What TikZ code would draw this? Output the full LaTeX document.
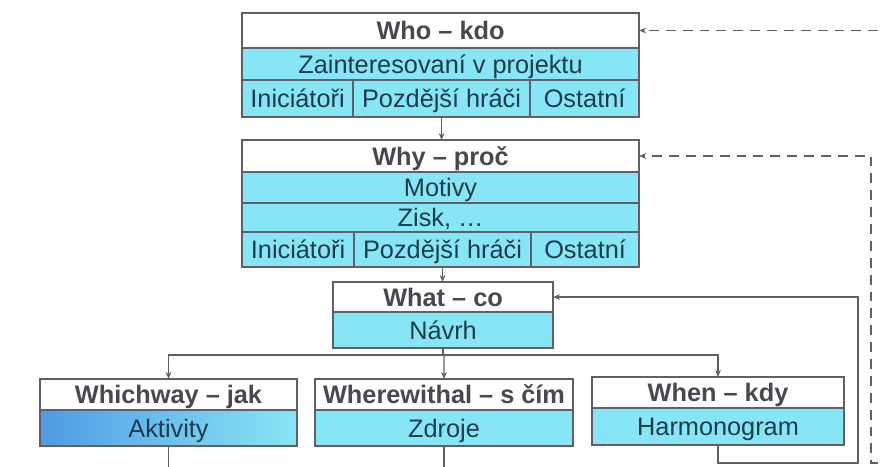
\documentclass[tikz,border=0pt]{standalone}
\usepackage{fontspec}
\setmainfont{Liberation Sans}
\usepackage{tikz}
\usetikzlibrary{arrows.meta}

\definecolor{boxline}{RGB}{95,95,105}
\definecolor{cellfill}{RGB}{135,230,245}
\definecolor{darkfill}{RGB}{80,155,228}
\definecolor{headtext}{RGB}{72,72,80}
\definecolor{celltext}{RGB}{30,60,75}

\begin{document}
\begin{tikzpicture}[x=0.025cm,y=-0.025cm,
    cell/.style={draw=boxline,line width=0.9pt,fill=cellfill,text=celltext,
      inner sep=0pt,outer sep=0pt,anchor=north west,text height=13pt,text depth=0pt,
      font=\fontsize{18}{18}\selectfont},
    head/.style={cell,fill=white,text=headtext,font=\fontsize{18}{18}\selectfont\bfseries},
    link/.style={draw=boxline,line width=0.9pt,-{Stealth[length=5pt,width=4pt]}},
    back/.style={link,dash pattern=on 7pt off 5pt}]
  \useasboundingbox (0,0) rectangle (885,466);

  % who
  \node[head,minimum width=9.925cm,minimum height=0.875cm] (who) at (242,13) {Who – kdo};
  \node[cell,minimum width=9.925cm,minimum height=0.8cm] (whoA) at (who.south west) {Zainteresovaní v projektu};
  \node[cell,minimum width=2.775cm,minimum height=0.925cm] (whoB) at (whoA.south west) {Iniciátoři};
  \node[cell,minimum width=4.425cm,minimum height=0.925cm] (whoC) at (whoB.north east) {Pozdější hráči};
  \node[cell,minimum width=2.725cm,minimum height=0.925cm] (whoD) at (whoC.north east) {Ostatní};

  % why
  \node[head,minimum width=9.925cm,minimum height=0.8cm] (why) at (242,140) {Why – proč};
  \node[cell,minimum width=9.925cm,minimum height=0.775cm] (whyA) at (why.south west) {Motivy};
  \node[cell,minimum width=9.925cm,minimum height=0.725cm] (whyB) at (whyA.south west) {Zisk, …};
  \node[cell,minimum width=2.8cm,minimum height=0.875cm] (whyC) at (whyB.south west) {Iniciátoři};
  \node[cell,minimum width=4.425cm,minimum height=0.875cm] (whyD) at (whyC.north east) {Pozdější hráči};
  \node[cell,minimum width=2.7cm,minimum height=0.875cm] (whyE) at (whyD.north east) {Ostatní};

  % what
  \node[head,minimum width=5.5cm,minimum height=0.75cm] (what) at (333,282) {What – co};
  \node[cell,minimum width=5.5cm,minimum height=0.9cm] (whatA) at (what.south west) {Návrh};

  % which way, wherewithal, when
  \node[head,minimum width=6.425cm,minimum height=0.775cm] (way) at (40,379) {Whichway – jak};
  \node[cell,minimum width=6.425cm,minimum height=0.9cm,left color=darkfill,middle color=cellfill,right color=cellfill] (wayA) at (way.south west) {Aktivity};
  \node[head,minimum width=6.45cm,minimum height=0.775cm] (with) at (315,379) {Wherewithal – s čím};
  \node[cell,minimum width=6.45cm,minimum height=0.9cm] (withA) at (with.south west) {Zdroje};
  \node[head,minimum width=6.3cm,minimum height=0.775cm] (when) at (592,377) {When – kdy};
  \node[cell,minimum width=6.3cm,minimum height=0.925cm] (whenA) at (when.south west) {Harmonogram};

  \coordinate (split) at (444,355);
  \coordinate (loop) at (858,463);
  \coordinate (dashA) at (895,0);
  \coordinate (dashB) at (895,463);
  \coordinate (dashC) at (871,463);

  \draw[link] (whoC.south) -- (whoC.south |- why.north);
  \draw[link] (whyD.south) -- (whyD.south |- what.north);
  \draw[draw=boxline,line width=0.9pt] (whatA.south) -- (whatA.south |- split);
  \draw[link] (split) -- (withA.south |- with.north);
  \draw[link] (split) -| (way.north);
  \draw[link] (split) -| (when.north);

  \draw[draw=boxline,line width=0.9pt] (wayA.south) -- ++(0,30);
  \draw[draw=boxline,line width=0.9pt] (withA.south) -- ++(0,30);
  \draw[link] (whenA.south) |- (loop) |- (whatA.north east |- what.east);

  \draw[back] (who.east -| dashA) -- (who.east);
  \draw[back] (dashB) -- (dashC) |- (why.east);
\end{tikzpicture}
\end{document}
